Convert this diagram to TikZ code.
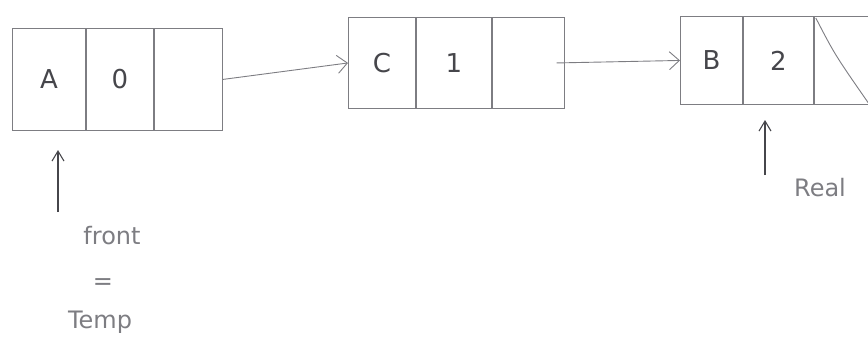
\documentclass[tikz,border=0pt]{standalone}
\usepackage{fontspec}
\setmainfont{DejaVu Sans}
\usetikzlibrary{arrows.meta}
\definecolor{pencil}{RGB}{125,125,130}
\definecolor{ink}{RGB}{70,70,75}
\begin{document}
\begin{tikzpicture}[x=1pt,y=-1pt,
  cell/.style={draw=pencil,line width=0.9pt,inner sep=0pt,font=\fontsize{26}{30}\selectfont,text=ink},
  link/.style={draw=pencil,line width=0.9pt,-{Straight Barb[length=10pt,width=18pt]}},
  ptr/.style={draw=ink,line width=1.1pt,-{Straight Barb[length=10pt,width=12pt]}},
  lbl/.style={text=pencil,font=\fontsize{24}{28}\selectfont}]
\useasboundingbox (0,0) rectangle (868,356);
% node 1
\node[cell,minimum width=73pt,minimum height=102pt,anchor=north west] (a1) at (12,28) {A};
\node[cell,minimum width=67pt,minimum height=102pt,anchor=north west] (a2) at (a1.north east) {0};
\node[cell,minimum width=68pt,minimum height=102pt,anchor=north west] (a3) at (a2.north east) {};
% node 2
\node[cell,minimum width=67pt,minimum height=91pt,anchor=north west] (b1) at (348,17) {C};
\node[cell,minimum width=75pt,minimum height=91pt,anchor=north west] (b2) at (b1.north east) {1};
\node[cell,minimum width=72pt,minimum height=91pt,anchor=north west] (b3) at (b2.north east) {};
% node 3
\node[cell,minimum width=62pt,minimum height=88pt,anchor=north west] (c1) at (680,16) {B};
\node[cell,minimum width=70pt,minimum height=88pt,anchor=north west] (c2) at (c1.north east) {2};
\node[cell,minimum width=55pt,minimum height=88pt,anchor=north west] (c3) at (c2.north east) {};
\draw[pencil,line width=0.9pt] (c3.north west) ++(2,2) .. controls (835,55) .. (c3.south east);
% links
\draw[link] (a3.east) -- (b1.west);
\coordinate (b3m) at ([xshift=-8pt]b3.east);
\draw[link] (b3m) -- (c1.west);
% pointers
\coordinate (ftail) at (58,212);
\coordinate (fhead) at (58,150);
\draw[ptr] (ftail) -- (fhead);
\node[lbl] (front) at (112,236) {front};
\node[lbl] (eq) at (103,284) {=};
\node[lbl] (temp) at (100,322) {Temp};
\coordinate (rtail) at (765,175);
\coordinate (rhead) at (765,120);
\draw[ptr] (rtail) -- (rhead);
\node[lbl] (rear) at (820,188) {Real};
\end{tikzpicture}
\end{document}
